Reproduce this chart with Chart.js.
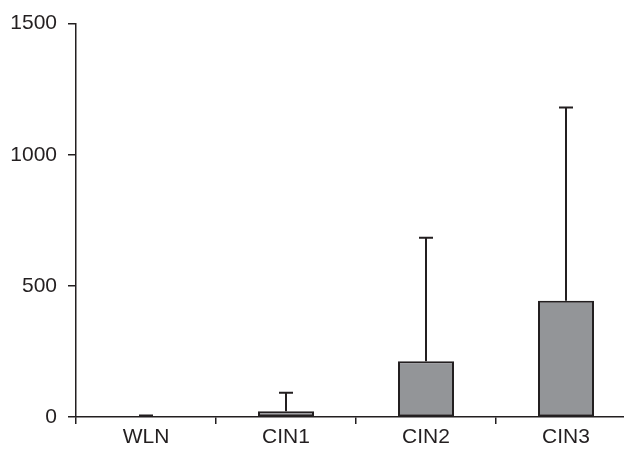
<!DOCTYPE html>
<html><head><meta charset="utf-8">
<script src="https://cdn.jsdelivr.net/npm/chart.js@4"></script>
<style>html,body{margin:0;padding:0;background:#fff;overflow:hidden;width:624px;height:449px}#wrap{width:636px;height:449px;position:relative}</style>
</head><body><div id="wrap"><canvas id="c"></canvas></div>
<script>
const categories = ['WLN', 'CIN1', 'CIN2', 'CIN3'];
const means = [3, 22, 213, 443];
const errorTops = [6, 92, 683, 1180];
const yTicks = [0, 500, 1000, 1500];

const INK = '#231f20';
const errorBars = {
  id: 'errorBars',
  afterDatasetsDraw(chart) {
    const ctx = chart.ctx, y = chart.scales.y, meta = chart.getDatasetMeta(0);
    ctx.save();
    ctx.strokeStyle = INK; ctx.lineWidth = 2;
    meta.data.forEach((bar, i) => {
      const x = bar.x, yb = y.getPixelForValue(means[i]), yt = y.getPixelForValue(errorTops[i]);
      ctx.beginPath(); ctx.moveTo(x, yb); ctx.lineTo(x, yt);
      ctx.moveTo(x - 7, yt); ctx.lineTo(x + 7, yt); ctx.stroke();
    });
    ctx.restore();
  }
};

new Chart(document.getElementById('c'), {
  type: 'bar',
  data: { labels: categories, datasets: [{ data: means, backgroundColor: '#939598', borderColor: INK, borderWidth: 2, borderSkipped: false, categoryPercentage: 1, barPercentage: 0.4 }] },
  options: {
    responsive: true, maintainAspectRatio: false, animation: false,
    layout: { padding: { top: 21, left: 0, right: 0, bottom: 0 } },
    plugins: { legend: { display: false }, tooltip: { enabled: false } },
    scales: {
      x: {
        offset: true,
        grid: { display: true, offset: true, drawOnChartArea: false, tickLength: 7, color: INK, lineWidth: 1.5 },
        border: { color: INK, width: 1.5 },
        ticks: { color: INK, font: { family: 'Liberation Sans', size: 21 }, padding: 1 },
        afterFit(s) { s.height = 32; }
      },
      y: {
        min: 0, max: 1500,
        afterBuildTicks(s) { s.ticks = yTicks.map(v => ({ value: v })); },
        grid: { display: true, drawOnChartArea: false, tickLength: 8, color: INK, lineWidth: 1.5 },
        border: { color: INK, width: 1.5 },
        ticks: { color: INK, font: { family: 'Liberation Sans', size: 21 }, padding: 11, callback: v => String(v) },
        afterFit(s) { s.width = 76; }
      }
    }
  },
  plugins: [errorBars]
});
</script></body></html>
